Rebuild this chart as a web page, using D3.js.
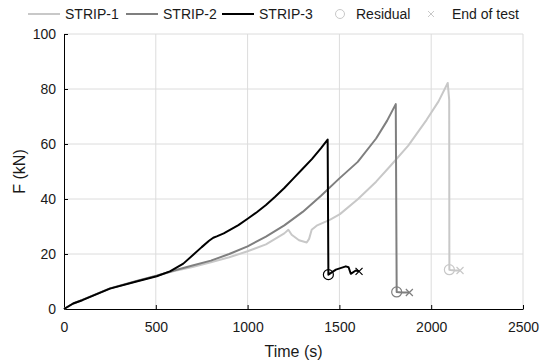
<!DOCTYPE html>
<html lang="en">
<head>
  <meta charset="UTF-8">
  <title>Strip tests</title>
  <script src="https://d3js.org/d3.v7.min.js"></script>
  <style>
    html, body { margin: 0; padding: 0; background: #fff; }
    svg { display: block; font-family: "Liberation Sans", Arial, sans-serif; }
    .grid line { stroke: #dcdcdc; stroke-width: 1; }
    .axis path, .axis line { stroke: #000; }
    .axis text { font-size: 14px; fill: #1a1a1a; }
  </style>
</head>
<body>
  <svg id="chart" width="543" height="363"></svg>
  <script>
    // Series names and colours
    const seriesNames = ["STRIP-1", "STRIP-2", "STRIP-3"];
    const seriesColors = ["#c8c8c8", "#7f7f7f", "#000000"];

    // Time (s) and force (kN)
    const strip1Time = [0, 50, 100, 250, 400, 500, 600, 700, 800, 900, 1000, 1100, 1200, 1222, 1240, 1280, 1322, 1335, 1349, 1376, 1450, 1503, 1600, 1700, 1776, 1875, 1975, 2040, 2090, 2097, 2098, 2099, 2105, 2130, 2157];
    const strip1Force = [0, 2.0, 3.3, 7.4, 10.2, 12.1, 13.8, 15.3, 17.0, 18.8, 21.0, 23.5, 27.5, 28.8, 27.0, 25.0, 24.2, 25.5, 28.8, 30.3, 32.5, 34.5, 39.9, 46.3, 51.9, 59.4, 68.8, 75.5, 82.2, 76.8, 76.0, 14.3, 14.2, 14.0, 14.0];

    const strip2Time = [0, 50, 100, 250, 400, 505, 600, 700, 800, 900, 1000, 1100, 1200, 1300, 1400, 1500, 1600, 1700, 1760, 1807, 1812, 1840, 1881];
    const strip2Force = [0, 2.0, 3.3, 7.5, 10.3, 12.1, 14.0, 15.8, 17.6, 20.0, 22.8, 26.3, 30.4, 35.3, 41.2, 47.5, 53.5, 62.0, 68.5, 74.5, 6.2, 6.0, 6.0];

    const strip3Time = [0, 50, 100, 250, 400, 505, 577, 650, 704, 750, 790, 813, 832, 870, 950, 1000, 1050, 1100, 1150, 1200, 1250, 1300, 1350, 1400, 1436, 1440, 1481, 1535, 1550, 1562, 1589, 1607];
    const strip3Force = [0, 2.0, 3.2, 7.4, 10.1, 11.9, 13.7, 16.5, 19.7, 22.5, 24.8, 25.9, 26.4, 27.5, 30.5, 32.8, 35.2, 37.8, 40.8, 44.0, 47.5, 51.0, 54.5, 58.5, 61.6, 12.5, 14.3, 15.5, 15.2, 12.8, 14.0, 13.7];

    // Residual points (circles) and end of test points (crosses)
    const residualTime = [2099, 1812, 1440];
    const residualForce = [14.3, 6.2, 12.5];
    const endTime = [2157, 1881, 1607];
    const endForce = [14.0, 6.0, 13.7];

    const xTicks = [0, 500, 1000, 1500, 2000, 2500];
    const yTicks = [0, 20, 40, 60, 80, 100];

    const margin = { top: 34, right: 20, bottom: 54, left: 64 };
    const width = 543, height = 363;
    const svg = d3.select("#chart");

    const x = d3.scaleLinear().domain([0, 2500]).range([margin.left, width - margin.right]);
    const y = d3.scaleLinear().domain([0, 100]).range([height - margin.bottom, margin.top]);

    // Grid lines
    const grid = svg.append("g").attr("class", "grid");
    grid.selectAll(".gx").data(xTicks.slice(1)).enter().append("line")
      .attr("x1", d => x(d)).attr("x2", d => x(d))
      .attr("y1", y(0)).attr("y2", y(100));
    grid.selectAll(".gy").data(yTicks.slice(1)).enter().append("line")
      .attr("x1", x(0)).attr("x2", x(2500))
      .attr("y1", d => y(d)).attr("y2", d => y(d));

    // Axes with inward ticks
    svg.append("g").attr("class", "axis")
      .attr("transform", `translate(0,${y(0)})`)
      .call(d3.axisBottom(x).tickValues(xTicks).tickFormat(d3.format("d"))
        .tickSizeInner(-4).tickSizeOuter(0).tickPadding(10))
      .call(g => g.selectAll("text").attr("dy", "0.9em"));
    svg.append("g").attr("class", "axis")
      .attr("transform", `translate(${x(0)},0)`)
      .call(d3.axisLeft(y).tickValues(yTicks).tickFormat(d3.format("d"))
        .tickSizeInner(-4).tickSizeOuter(0).tickPadding(8));

    // Axis titles
    svg.append("text")
      .attr("x", (x(0) + x(2500)) / 2).attr("y", 357)
      .attr("text-anchor", "middle").attr("font-size", 16).attr("fill", "#1a1a1a")
      .text("Time (s)");
    svg.append("text")
      .attr("transform", `translate(25,${(y(0) + y(100)) / 2}) rotate(-90)`)
      .attr("text-anchor", "middle").attr("font-size", 16).attr("fill", "#1a1a1a")
      .text("F (kN)");

    // Lines
    const series = [
      d3.zip(strip1Time, strip1Force),
      d3.zip(strip2Time, strip2Force),
      d3.zip(strip3Time, strip3Force)
    ];
    const line = d3.line().x(d => x(d[0])).y(d => y(d[1]));
    series.forEach((s, i) => {
      svg.append("path")
        .attr("d", line(s))
        .attr("fill", "none")
        .attr("stroke", seriesColors[i])
        .attr("stroke-width", 2)
        .attr("stroke-linejoin", "round");
    });

    // Markers
    residualTime.forEach((t, i) => {
      svg.append("circle")
        .attr("cx", x(t)).attr("cy", y(residualForce[i])).attr("r", 5)
        .attr("fill", "none").attr("stroke", seriesColors[i]).attr("stroke-width", 1.2);
    });
    const cross = (g, cx, cy, r, color, w) => {
      g.append("path")
        .attr("d", `M${cx - r},${cy - r}L${cx + r},${cy + r}M${cx - r},${cy + r}L${cx + r},${cy - r}`)
        .attr("stroke", color).attr("stroke-width", w).attr("fill", "none");
    };
    endTime.forEach((t, i) => cross(svg, x(t), y(endForce[i]), 3.5, seriesColors[i], 1.2));

    // Legend
    const legend = svg.append("g").attr("font-size", 14).attr("fill", "#1a1a1a");
    const legendX = [28, 126, 222];
    seriesNames.forEach((name, i) => {
      legend.append("line")
        .attr("x1", legendX[i]).attr("x2", legendX[i] + 32)
        .attr("y1", 14).attr("y2", 14)
        .attr("stroke", seriesColors[i]).attr("stroke-width", 2);
      legend.append("text").attr("x", legendX[i] + 37).attr("y", 19).text(name);
    });
    legend.append("circle").attr("cx", 340).attr("cy", 14).attr("r", 4.5)
      .attr("fill", "none").attr("stroke", "#c8c8c8").attr("stroke-width", 1);
    legend.append("text").attr("x", 356).attr("y", 19).text("Residual");
    cross(legend, 431, 14, 3, "#c8c8c8", 1);
    legend.append("text").attr("x", 452).attr("y", 19).text("End of test");
  </script>
</body>
</html>
